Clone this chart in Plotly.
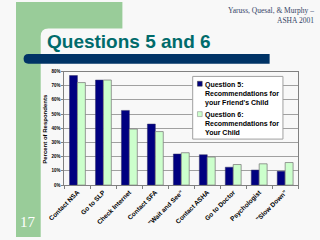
import plotly.graph_objects as go

categories = ["Contact NSA", "Go to SLP", "Check Internet", "Contact SFA", "\"Wait and See\"",
              "Contact ASHA", "Go to Doctor", "Psychologist", "\"Slow Down\""]
q5_values = [0.772, 0.740, 0.526, 0.430, 0.219, 0.214, 0.126, 0.106, 0.097]
q6_values = [0.722, 0.740, 0.395, 0.377, 0.228, 0.198, 0.145, 0.150, 0.159]
q5_name = ["Question 5:", "Recommendations for", "your Friend's Child"]
q6_name = ["Question 6:", "Recommendations for", "Your Child"]
y_ticks = [0, 0.1, 0.2, 0.3, 0.4, 0.5, 0.6, 0.7, 0.8]

W, H = 320, 240
def px(x): return x / W
def py(y): return 1 - y / H

NAVY = "#000080"
LIGHT = "#ccffcc"
GREEN = "#99cc99"
BG = "#f8f8f8"

fig = go.Figure()
fig.add_trace(go.Bar(x=categories, y=q5_values, name=" ".join(q5_name),
                     marker=dict(color=NAVY, line=dict(color="#333366", width=0.5)),
                     showlegend=False))
fig.add_trace(go.Bar(x=categories, y=q6_values, name=" ".join(q6_name),
                     marker=dict(color=LIGHT, line=dict(color="#808080", width=0.8)),
                     showlegend=False))

shapes = []
r = 8
shapes.append(dict(type="path", xref="paper", yref="paper", layer="below",
    path=(f"M 0,1 L {px(112)},1 L {px(112)},{py(27)} L {px(26 + r)},{py(27)} "
          f"Q {px(26)},{py(27)} {px(26)},{py(27 + r)} L {px(26)},0 L 0,0 Z"),
    fillcolor=GREEN, line=dict(width=0)))
shapes.append(dict(type="path", xref="paper", yref="paper", layer="below",
    path=(f"M {px(13)},{py(53)} L {px(267)},{py(53)} L {px(267)},{py(63)} L {px(13)},{py(63)} "
          f"Q {px(8)},{py(63)} {px(8)},{py(58)} Q {px(8)},{py(53)} {px(13)},{py(53)} Z"),
    fillcolor="#003366", line=dict(width=0)))
shapes.append(dict(type="rect", xref="paper", yref="paper", layer="above",
    x0=px(186), x1=px(281), y0=py(140), y1=py(76),
    fillcolor="white", line=dict(color="#a0a0a0", width=1)))
shapes.append(dict(type="rect", xref="paper", yref="paper", layer="above",
    x0=px(191), x1=px(196), y0=py(86), y1=py(81),
    fillcolor=NAVY, line=dict(color="#333333", width=0.5)))
shapes.append(dict(type="rect", xref="paper", yref="paper", layer="above",
    x0=px(191), x1=px(196), y0=py(117), y1=py(112),
    fillcolor=LIGHT, line=dict(color="#808080", width=0.5)))

annotations = []
annotations.append(dict(text="<b>Questions 5 and 6</b>", x=px(31), y=py(40), xref="paper", yref="paper",
    xanchor="left", yanchor="middle", showarrow=False,
    font=dict(family="Liberation Sans, Arial", size=19, color="#006b6b")))
annotations.append(dict(text="Yaruss, Quesal, &amp; Murphy –<br>ASHA 2001", x=px(316), y=py(2),
    xref="paper", yref="paper", xanchor="right", yanchor="top", align="right", showarrow=False,
    font=dict(family="Liberation Serif, Times New Roman", size=7.5, color="#334466")))
annotations.append(dict(text="17", x=px(13), y=py(225), xref="paper", yref="paper",
    xanchor="center", yanchor="middle", showarrow=False,
    font=dict(family="Liberation Serif, Times New Roman", size=15, color="white")))
annotations.append(dict(text="<br>".join(q5_name), x=px(197), y=py(78.5), xref="paper", yref="paper",
    xanchor="left", yanchor="top", align="left", showarrow=False,
    font=dict(family="Liberation Sans, Arial", size=7, color="black", weight="bold")))
annotations.append(dict(text="<br>".join(q6_name), x=px(197), y=py(109.5), xref="paper", yref="paper",
    xanchor="left", yanchor="top", align="left", showarrow=False,
    font=dict(family="Liberation Sans, Arial", size=7, color="black", weight="bold")))
annotations.append(dict(text="Percent of Respondents", x=px(31), y=py(129), xref="paper", yref="paper",
    xanchor="center", yanchor="middle", textangle=-90, showarrow=False,
    font=dict(family="Liberation Sans, Arial", size=6, color="black", weight="bold")))

fig.update_layout(
    width=W, height=H, autosize=False,
    margin=dict(l=0, r=0, t=0, b=0),
    paper_bgcolor=BG, plot_bgcolor=BG,
    barmode="group", bargap=0.39, bargroupgap=0,
    shapes=shapes, annotations=annotations,
    showlegend=False,
    xaxis=dict(domain=[px(51), px(297)], showline=True, linecolor="#808080", linewidth=1,
               mirror=True, ticks="outside", tickson="boundaries", ticklen=3, tickcolor="#808080",
               tickangle=-45, showgrid=False,
               tickfont=dict(family="Liberation Sans, Arial", size=6.5, color="black", weight="bold")),
    yaxis=dict(domain=[py(187), py(71)], range=[0, 0.8], tickvals=y_ticks, tickformat=".0%",
               showline=True, linecolor="#808080", linewidth=1, mirror=True,
               ticks="outside", ticklen=2, tickcolor="#808080",
               showgrid=True, gridcolor="#a0a0a0", gridwidth=1, zeroline=False,
               tickfont=dict(family="Liberation Sans, Arial", size=4.5, color="black", weight="bold")),
)

fig.write_html("out.html")
